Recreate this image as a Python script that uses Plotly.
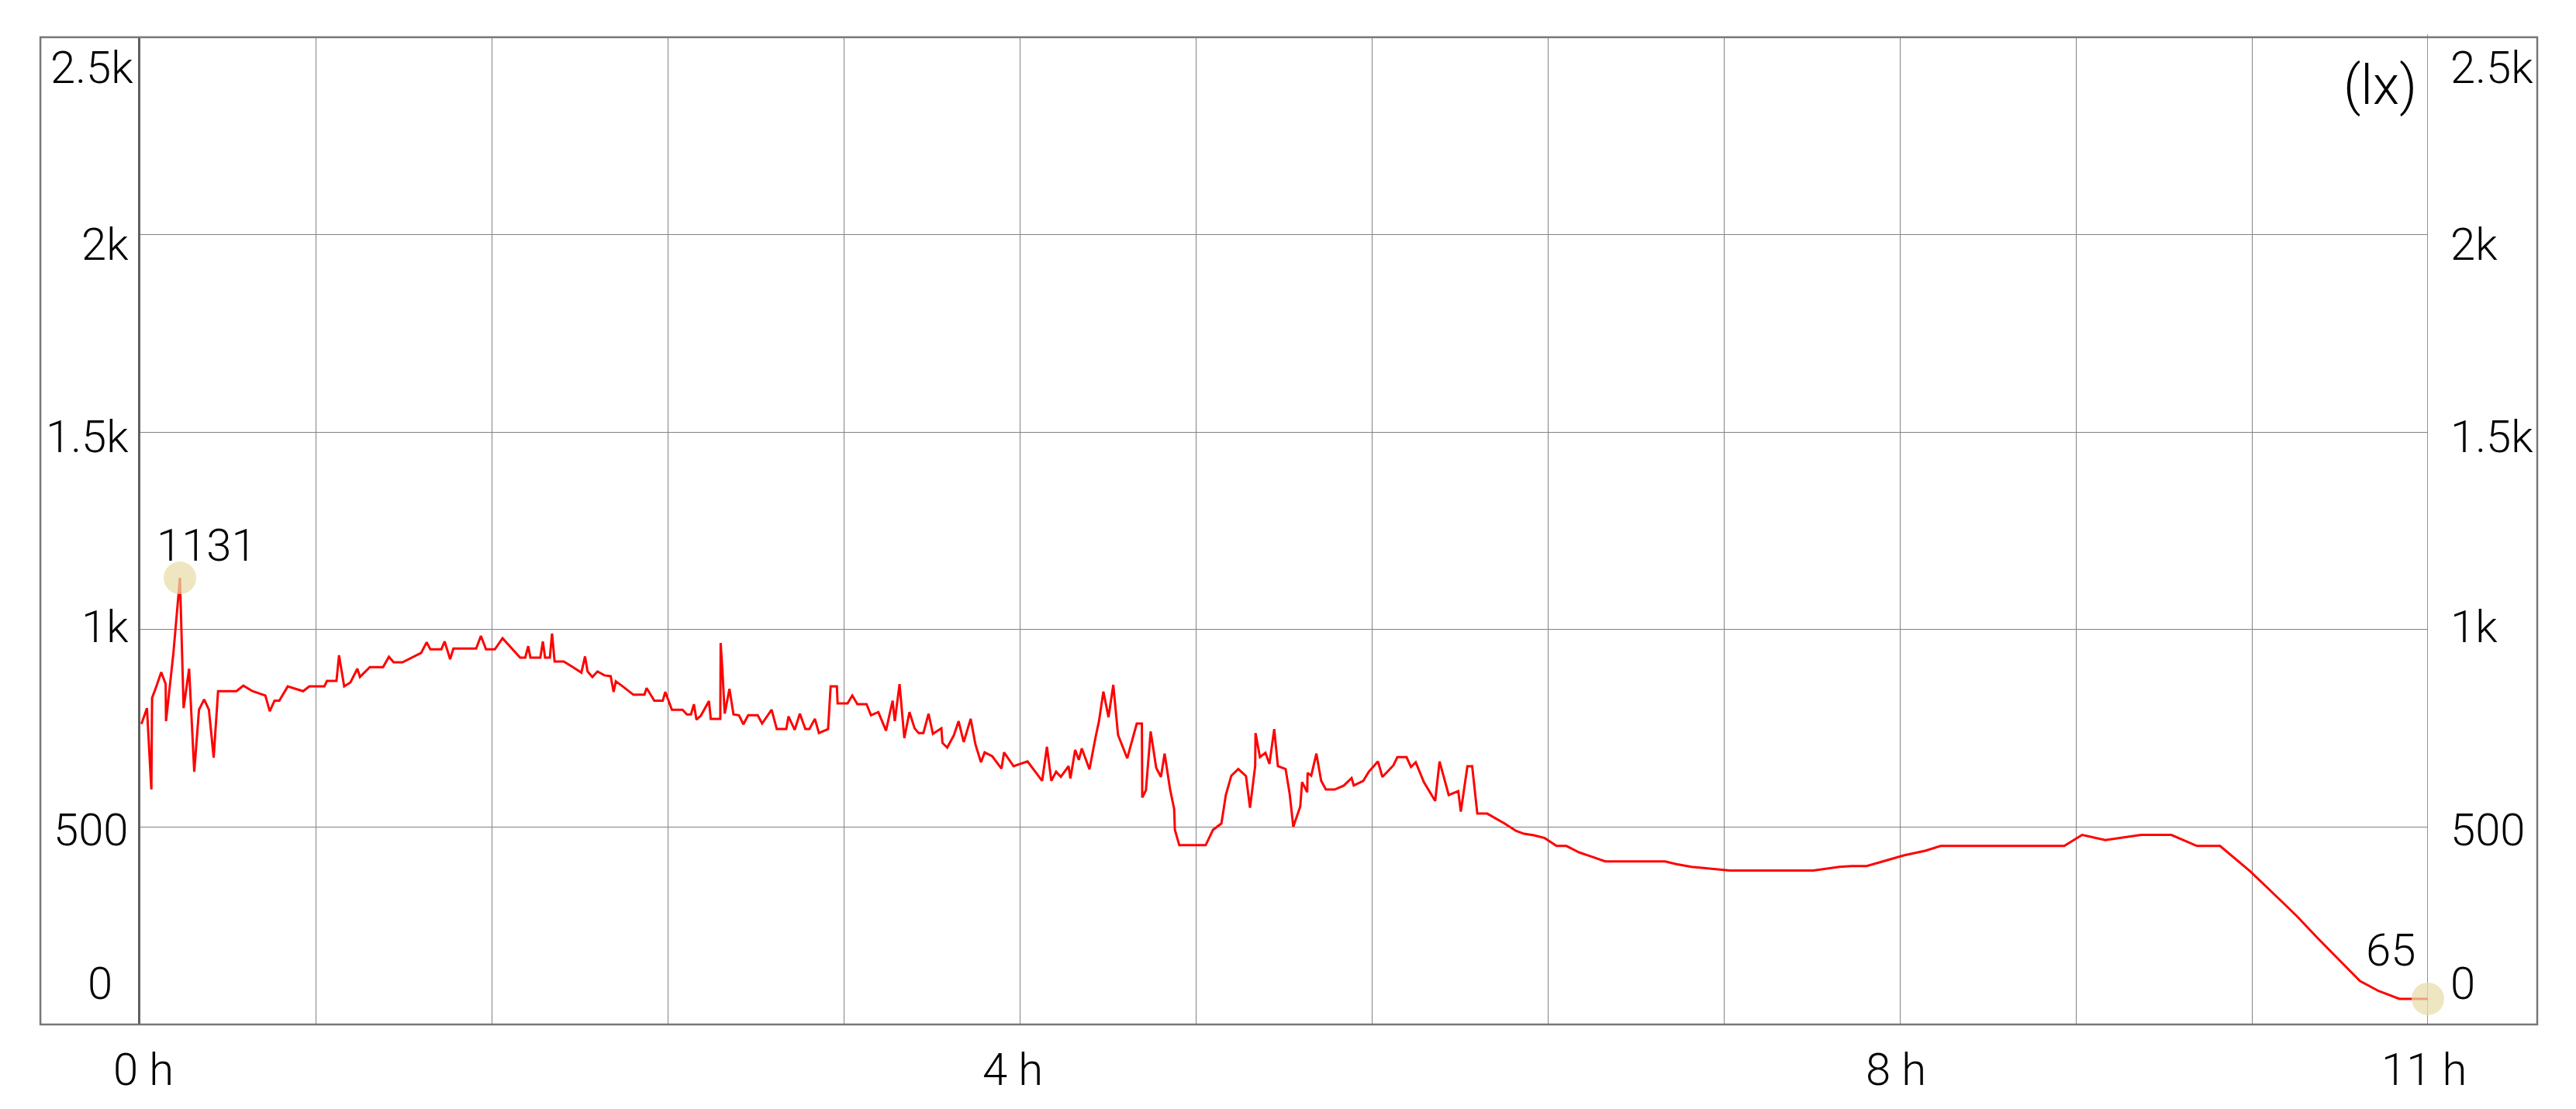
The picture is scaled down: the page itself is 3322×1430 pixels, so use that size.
import plotly.graph_objects as go

# illuminance log, time in minutes from start
time_min = [
    0.3, 1.8, 3.0, 3.2, 4.2, 5.7, 6.9, 7.0, 9.0, 10.8,
    11.8, 13.3, 14.7, 16.0, 17.4, 18.7, 20.0, 21.2, 26.2, 28.1,
    30.6, 34.1, 35.3, 36.6, 37.9, 40.2, 44.4, 46.1, 50.2, 50.9,
    53.5, 54.2, 55.6, 57.3, 59.2, 59.9, 62.6, 66.2, 67.8, 69.1,
    71.5, 76.6, 78.1, 79.1, 82.1, 83.0, 84.5, 85.4, 91.6, 92.9,
    94.3, 96.7, 98.8, 100.5, 103.6, 105.0, 105.8, 106.4, 109.1, 109.8,
    110.4, 111.7, 112.3, 113.0, 115.5, 118.0,
    120.3, 121.3, 122.0, 123.3, 124.7, 126.6, 128.3, 129.1, 129.7, 131.6,
    134.5, 137.5, 138.1, 140.2, 142.5, 143.2, 145.0, 147.9, 149.1, 150.2,
    151.0, 151.7, 152.9, 155.1, 155.6, 158.2, 158.3, 158.8, 159.4, 160.7,
    161.8, 163.3, 164.5, 165.8, 168.4, 169.6, 172.2, 173.6, 176.2, 176.8,
    178.5, 179.9, 181.4, 182.5, 184.0, 185.1, 187.6, 188.3, 190.0, 190.2,
    192.9, 194.2, 195.6, 198.1, 199.3, 201.3, 203.4, 205.2, 205.8, 207.1,
    208.4, 209.8, 211.2, 212.3, 213.6, 215.0, 216.2, 218.5, 218.8, 220.1,
    221.9, 223.2, 224.6, 226.5, 227.8, 229.3, 230.3, 232.4, 234.9, 235.6,
    238.2, 242.0, 246.0, 247.3, 248.5,
    249.8, 251.1, 253.2, 253.7, 255.0, 256.0, 256.8, 258.9, 260.6, 261.5,
    262.7, 264.1, 265.4, 266.7, 269.2, 271.8, 273.2, 273.3, 274.3, 275.6,
    277.1, 278.4, 279.4, 280.9, 282.0, 282.2, 283.4, 290.6, 292.6, 294.9,
    296.1, 297.6, 299.5, 301.6, 302.7, 304.1, 304.2, 305.4, 306.9, 308.0,
    309.3, 310.3, 312.4, 313.5, 314.5, 316.4, 316.9, 318.3, 318.4, 319.4,
    320.8, 322.1, 323.4, 325.8, 328.3, 330.4, 331.0, 333.6, 335.1, 337.6,
    338.8, 341.8, 342.9, 345.4, 346.6, 347.9, 350.1, 353.2, 354.4, 356.9,
    359.5, 360.2, 362.0, 363.3, 364.7, 367.4,
    372.1, 375.3, 377.4, 380.1, 383.1, 386.3, 389.0, 392.4, 395.6, 399.6,
    415.9, 419.0, 423.1, 425.5, 430.4, 433.6, 456.3, 459.4, 463.5, 466.8,
    470.9, 475.7, 481.0, 486.9, 491.1, 524.8, 529.7, 536.0, 539.6, 545.8,
    554.0, 561.0, 567.3, 575.5, 582.5, 588.3, 594.0, 600.5, 605.5, 610.5,
    616.2, 624.0,
]

lux = [
    761, 801, 595, 827, 852, 892, 862, 768, 939, 1131,
    801, 901, 640, 797, 823, 797, 676, 844, 844, 858,
    844, 833, 793, 820, 820, 856, 844, 856, 856, 870,
    870, 935, 856, 866, 901, 880, 905, 905, 931, 917,
    917, 941, 968, 950, 950, 970, 925, 952, 952, 984,
    950, 950, 978, 960, 929, 929, 958, 929, 929, 970,
    929, 929, 990, 919, 919, 905,
    891, 932, 894, 880, 894, 884, 882, 842, 869, 856,
    835, 835, 852, 820, 820, 842, 797, 797, 785, 785,
    811, 772, 782, 819, 774, 774, 966, 892, 787, 850,
    785, 783, 760, 783, 783, 762, 797, 748, 748, 780,
    746, 787, 748, 748, 774, 738, 748, 856, 856, 813,
    813, 833, 811, 811, 783, 791, 744, 820, 768, 862,
    725, 791, 750, 738, 738, 787, 736, 750, 713, 701,
    732, 768, 715, 774, 709, 664, 689, 679, 648, 689,
    654, 666, 617, 703, 617,
    640, 627, 654, 623, 695, 670, 699, 646, 729, 768,
    843, 778, 860, 733, 674, 762, 762, 575, 593, 742,
    650, 627, 686, 595, 546, 493, 454, 454, 493, 509,
    581, 630, 647, 629, 549, 654, 738, 677, 688, 660,
    748, 654, 647, 585, 501, 552, 614, 588, 637, 630,
    686, 617, 595, 595, 605, 624, 605, 617, 640, 666,
    627, 656, 677, 677, 652, 664, 614, 566, 666, 581,
    591, 539, 654, 654, 534, 534,
    509, 490, 483, 479, 472, 452, 452, 436, 426, 413,
    413, 406, 399, 397, 392, 390, 390, 394, 399, 401,
    401, 414, 428, 440, 452, 452, 480, 467, 472, 480,
    480, 452, 452, 388, 326, 274, 218, 156, 110, 85,
    65, 65,
]

x_grid = list(range(0, 625, 48))
x_tick_vals = [0, 240, 480, 624]
x_tick_text = ["0 h", "4 h", "8 h", "11 h"]
x_label_nudge = [4, -10, -5, -5]
y_tick_vals = [0, 500, 1000, 1500, 2000, 2500]
y_tick_text = ["0", "500", "1k", "1.5k", "2k", "2.5k"]
y_label_shift = [53, -4, 4, -6, -12, -39]
y_left_nudge = [-21, 0, 0, 0, 0, 6]

FONT = "Roboto, 'Liberation Sans', sans-serif"
GRID = "#828282"


def label_font(size=58):
    return dict(family=FONT, size=size, color="black", weight=300)


i_max = lux.index(max(lux))
i_min = len(lux) - 1

fig = go.Figure()
fig.add_trace(go.Scatter(
    x=time_min, y=lux, mode="lines",
    line=dict(color="#ff0000", width=3),
    hoverinfo="skip",
))
# min / max highlights
fig.add_trace(go.Scatter(
    x=[time_min[i_max], time_min[i_min]],
    y=[lux[i_max], lux[i_min]],
    mode="markers",
    marker=dict(size=42, color="rgb(231,221,168)", opacity=0.73, line=dict(width=0)),
    cliponaxis=False,
    hoverinfo="skip",
))

ann = []
for v, t, s, n in zip(y_tick_vals, y_tick_text, y_label_shift, y_left_nudge):
    ann.append(dict(x=-0.0044, xref="paper", y=v, yref="y", text=t, showarrow=False,
                    xanchor="right", yanchor="middle", xshift=n, yshift=s,
                    font=label_font()))
    ann.append(dict(x=1.0092, xref="paper", y=v, yref="y", text=t, showarrow=False,
                    xanchor="left", yanchor="middle", yshift=s,
                    font=label_font()))
for v, t, n in zip(x_tick_vals, x_tick_text, x_label_nudge):
    ann.append(dict(x=v, xref="x", y=0, yref="paper", text=t, showarrow=False,
                    xanchor="center", yanchor="middle", xshift=n, yshift=-58,
                    font=label_font()))
ann.append(dict(x=1, xref="paper", y=1, yref="paper", text="(lx)", showarrow=False,
                xanchor="right", yanchor="middle", xshift=-12, yshift=-62,
                font=label_font(70)))
ann.append(dict(x=time_min[i_max], y=lux[i_max], text=str(lux[i_max]), showarrow=False,
                xanchor="center", yanchor="middle", xshift=34, yshift=42,
                font=label_font()))
ann.append(dict(x=time_min[i_min], y=lux[i_min], text=str(lux[i_min]), showarrow=False,
                xanchor="center", yanchor="middle", xshift=-48, yshift=63,
                font=label_font()))

fig.update_layout(
    width=3322, height=1430,
    margin=dict(l=181, r=191, t=48, b=109),
    paper_bgcolor="white", plot_bgcolor="white",
    showlegend=False,
    annotations=ann,
    shapes=[
        dict(type="rect", xref="paper", yref="paper", x0=-0.0437, x1=1.0478, y0=0, y1=1,
             line=dict(color="#777777", width=2.5), layer="above"),
        dict(type="line", xref="x", yref="paper", x0=624, x1=624, y0=0, y1=1.003,
             line=dict(color="#6e6e6e", width=1.5), layer="below"),
    ],
    xaxis=dict(range=[0, 624], tickvals=x_grid, showticklabels=False, ticks="",
               showgrid=True, gridcolor=GRID, gridwidth=1, zeroline=False,
               showline=False, fixedrange=True),
    yaxis=dict(range=[0, 2500], tickvals=y_tick_vals[1:-1], showticklabels=False, ticks="",
               showgrid=True, gridcolor=GRID, gridwidth=1, zeroline=False,
               showline=True, linecolor="#606060", linewidth=3, fixedrange=True),
)

fig.write_html("out.html", config={"displayModeBar": False},
               post_script="document.body.style.margin='0px';")
